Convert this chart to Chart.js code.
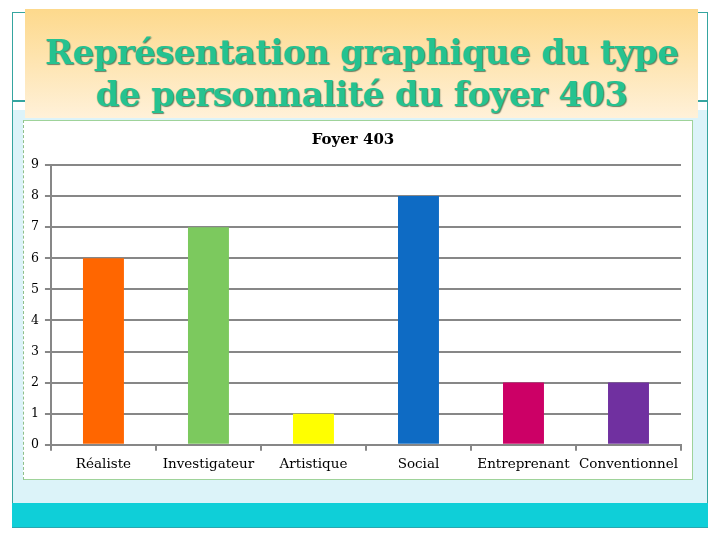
<!DOCTYPE html>
<html>
<head>
<meta charset="utf-8">
<script src="https://cdn.jsdelivr.net/npm/chart.js@4.4.1/dist/chart.umd.min.js"></script>
<style>
  html, body { margin: 0; padding: 0; background: #fff; }
  #slide { position: relative; width: 720px; height: 540px; overflow: hidden; }
  .frame { position: absolute; left: 12px; top: 12px; width: 694px; height: 514px;
           border: 1.5px solid #35a5a0; border-bottom: none; }
  .blue { position: absolute; left: 13px; top: 110px; width: 694px; height: 393px; background: #dcf3f9; }
  .hline { position: absolute; left: 12px; top: 100px; width: 696px; height: 1.5px; background: #35a5a0; }
  .footer { position: absolute; left: 12px; top: 503px; width: 696px; height: 24px; background: #0fcfd8;
            border-bottom: 1px solid #2aa7b0; }
  .titlebox { position: absolute; left: 25px; top: 9px; width: 673px; height: 109px;
              background: linear-gradient(#fdd98c, #fff1d9); }
  .titlebox h1 { margin: 0; padding-top: 22px; text-align: center; font-family: "DejaVu Serif", serif;
                 font-weight: bold; font-size: 34px; line-height: 42px; color: #25c290; letter-spacing: -0.6px;
                 text-shadow: 1px 1px 1px #6f7f63; }
  .chartbox { position: absolute; left: 23px; top: 120px; width: 670px; height: 360px; background: #fff;
              border: 1px solid #9fd39a; border-left: 1px dashed #8fbf8a; box-sizing: border-box; }
</style>
</head>
<body>
<div id="slide">
  <div class="frame"></div>
  <div class="blue"></div>
  <div class="hline"></div>
  <div class="footer"></div>
  <div class="titlebox"><h1>Représentation graphique du type<br>de personnalité du foyer 403</h1></div>
  <div class="chartbox"><canvas id="chart" width="668" height="358"></canvas></div>
</div>
<script>
  var categories = ['Réaliste', 'Investigateur', 'Artistique', 'Social', 'Entreprenant', 'Conventionnel'];
  var scores = [6, 7, 1, 8, 2, 2];
  var barColors = ['#ff6600', '#7cc95e', '#ffff00', '#0e6bc4', '#cc0066', '#7030a0'];

  var serif = '"DejaVu Serif", serif';

  new Chart(document.getElementById('chart').getContext('2d'), {
    type: 'bar',
    data: {
      labels: categories,
      datasets: [{
        label: 'Foyer 403',
        data: scores,
        backgroundColor: barColors,
        borderWidth: 0,
        categoryPercentage: 1,
        barPercentage: 0.39
      }]
    },
    options: {
      responsive: false,
      animation: false,
      layout: { padding: { left: 1, right: 11, top: 8, bottom: 0 } },
      plugins: {
        legend: { display: false },
        tooltip: { enabled: false },
        title: {
          display: true,
          text: 'Foyer 403',
          color: '#000',
          font: { family: serif, size: 15, weight: 'bold' },
          padding: { top: 2, bottom: 16 }
        }
      },
      scales: {
        x: {
          grid: { display: true, drawOnChartArea: false, drawTicks: true, tickLength: 6,
                  color: '#878787', lineWidth: 2, offset: true },
          border: { color: '#878787', width: 2 },
          ticks: { color: '#000', font: { family: serif, size: 13.5 }, padding: 6, maxRotation: 0, autoSkip: false }
        },
        y: {
          min: 0,
          max: 9,
          ticks: { stepSize: 1, color: '#000', font: { family: serif, size: 12.5 }, padding: 6 },
          grid: { color: '#878787', lineWidth: 2, tickLength: 6 },
          border: { color: '#878787', width: 2 }
        }
      }
    }
  });
</script>
</body>
</html>
